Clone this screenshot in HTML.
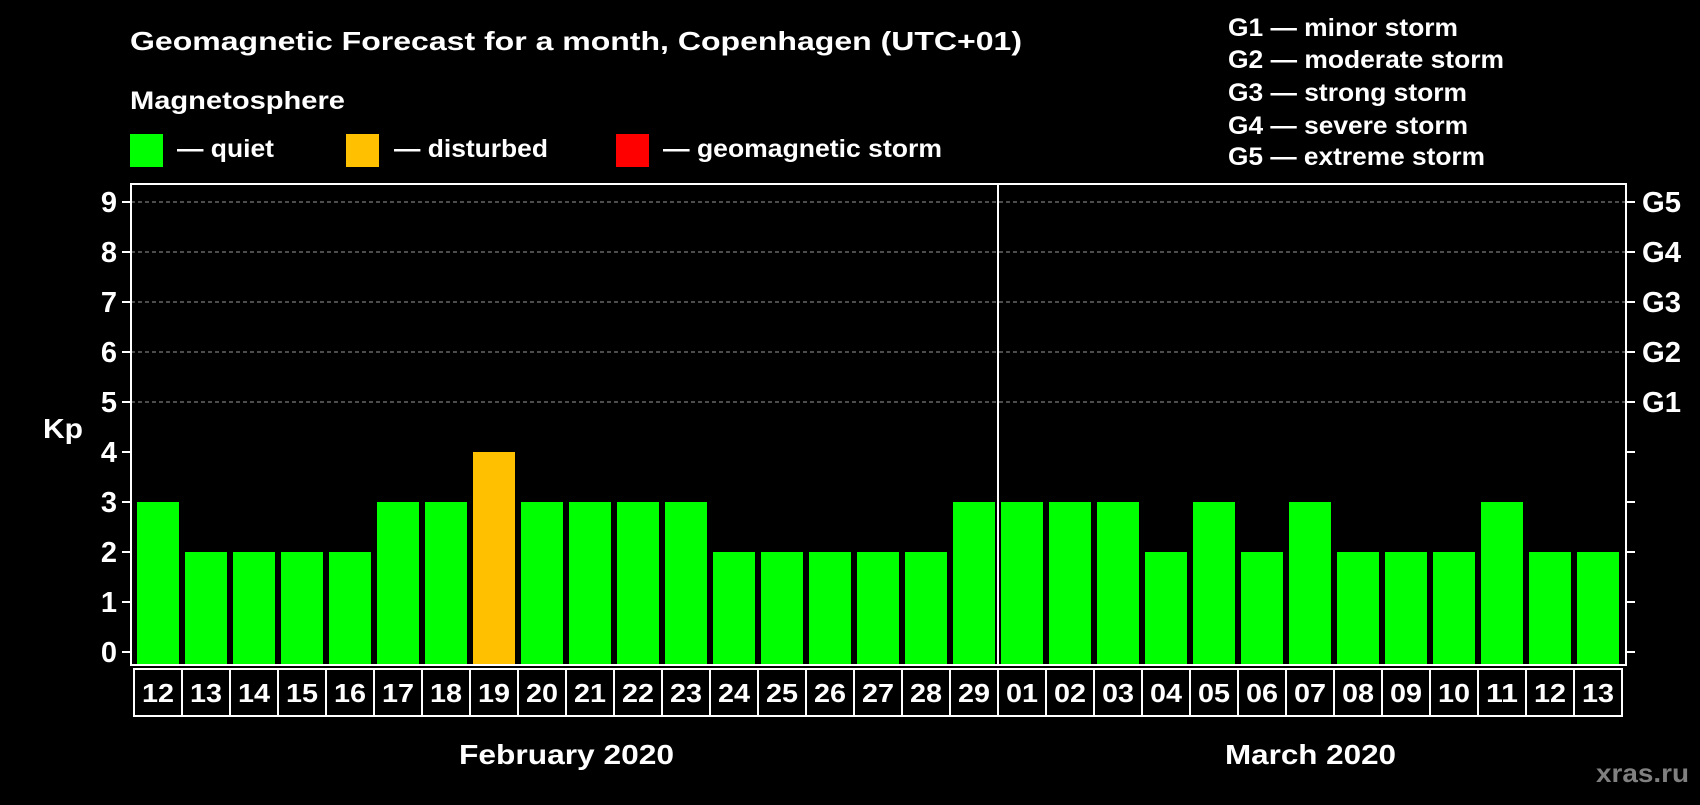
<!DOCTYPE html>
<html><head><meta charset="utf-8"><style>
body{margin:0;background:#000;width:1700px;height:800px;overflow:hidden;font-family:"Liberation Sans",sans-serif;font-weight:bold;color:#fff}
svg text{font-family:"Liberation Sans",sans-serif;font-weight:bold;fill:#fff}
</style></head><body>
<svg id="c" width="1700" height="800">
<text x="130" y="50" font-size="26" textLength="892" lengthAdjust="spacingAndGlyphs">Geomagnetic Forecast for a month, Copenhagen (UTC+01)</text>
<text x="130" y="109" font-size="25" textLength="215" lengthAdjust="spacingAndGlyphs">Magnetosphere</text>
<rect x="130" y="134" width="33" height="33" fill="#00ff00"/>
<text x="177" y="157" font-size="25" textLength="97" lengthAdjust="spacingAndGlyphs">— quiet</text>
<rect x="346" y="134" width="33" height="33" fill="#ffc000"/>
<text x="394" y="157" font-size="25" textLength="154" lengthAdjust="spacingAndGlyphs">— disturbed</text>
<rect x="616" y="134" width="33" height="33" fill="#ff0000"/>
<text x="663" y="157" font-size="25" textLength="279" lengthAdjust="spacingAndGlyphs">— geomagnetic storm</text>
<g font-size="25">
<text x="1228" y="36" textLength="230" lengthAdjust="spacingAndGlyphs">G1 — minor storm</text>
<text x="1228" y="68" textLength="276" lengthAdjust="spacingAndGlyphs">G2 — moderate storm</text>
<text x="1228" y="101" textLength="239" lengthAdjust="spacingAndGlyphs">G3 — strong storm</text>
<text x="1228" y="134" textLength="240" lengthAdjust="spacingAndGlyphs">G4 — severe storm</text>
<text x="1228" y="165" textLength="257" lengthAdjust="spacingAndGlyphs">G5 — extreme storm</text>
</g>
<text x="43" y="438" font-size="28" textLength="40" lengthAdjust="spacingAndGlyphs">Kp</text>
<text x="459" y="764" font-size="28" textLength="215" lengthAdjust="spacingAndGlyphs">February 2020</text>
<text x="1225" y="764" font-size="28" textLength="171" lengthAdjust="spacingAndGlyphs">March 2020</text>
<text x="1596" y="782" font-size="26" textLength="93" lengthAdjust="spacingAndGlyphs" style="fill:#808080">xras.ru</text>
<g id="plot"></g>
</svg>
<script>
const days=["12","13","14","15","16","17","18","19","20","21","22","23","24","25","26","27","28","29","01","02","03","04","05","06","07","08","09","10","11","12","13"];
const kp=[3,2,2,2,2,3,3,4,3,3,3,3,2,2,2,2,2,3,3,3,3,2,3,2,3,2,2,2,3,2,2];
const yTicks=[0,1,2,3,4,5,6,7,8,9];
const gLabels=["G1","G2","G3","G4","G5"];
const NS="http://www.w3.org/2000/svg";
const g=document.getElementById('plot');
const L=131,R=1626,T=184,B=665,x0=134,cw=48;
const y=v=>652-v*50;
const xc=i=>x0+i*cw+cw/2;
function mk(t,a){const e=document.createElementNS(NS,t);for(const k in a)e.setAttribute(k,a[k]);g.appendChild(e);return e;}
yTicks.forEach(v=>{
 if(v>=5){const l=mk('line',{x1:L,x2:R,y1:y(v),y2:y(v),stroke:'#999','stroke-dasharray':'4,3','stroke-width':1});
 
 }
 const t1=mk('line',{x1:L-9,x2:L,y1:y(v),y2:y(v),stroke:'#fff','stroke-width':2});
 
 
 const t2=mk('line',{x1:R,x2:R+9,y1:y(v),y2:y(v),stroke:'#fff','stroke-width':2});
 
 
 const tx=mk('text',{x:117,y:y(v)+10,'font-size':29,'text-anchor':'end'});tx.textContent=v;
 
 
});
gLabels.forEach((s,i)=>{const t=mk('text',{x:1642,y:y(5+i)+10,'font-size':29,textLength:39,lengthAdjust:'spacingAndGlyphs'});t.textContent=s;
 
 });
kp.forEach((v,i)=>{
 const col=v>=5?'#ff0000':v>=4?'#ffc000':'#00ff00';
 const b=mk('rect',{x:xc(i)-21,y:y(v),width:42,height:B-1-y(v),fill:col});
 
 
 const c=mk('rect',{x:x0+i*cw,y:669,width:cw,height:47,fill:'none',stroke:'#fff','stroke-width':2});
 
 
 const t=mk('text',{x:xc(i),y:702,'font-size':26,'text-anchor':'middle',textLength:32,lengthAdjust:'spacingAndGlyphs'});t.textContent=days[i];
 
 
});
const fr=mk('rect',{x:L,y:T,width:R-L,height:B-T,fill:'none',stroke:'#fff','stroke-width':2});


const sep=mk('line',{x1:x0+18*cw,x2:x0+18*cw,y1:T,y2:B,stroke:'#fff','stroke-width':2});


</script>
</body></html>
